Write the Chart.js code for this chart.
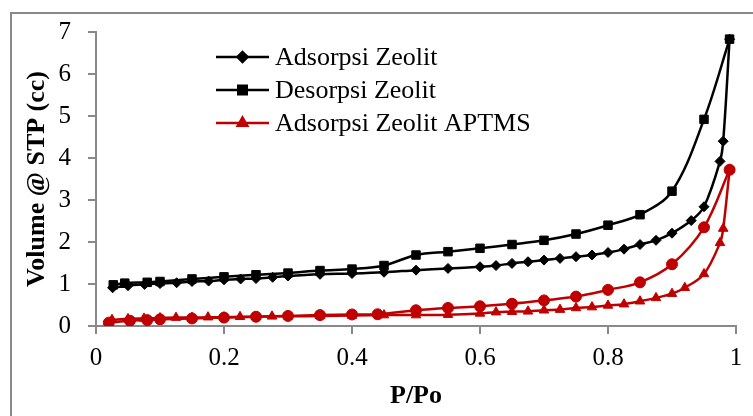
<!DOCTYPE html>
<html>
<head>
<meta charset="utf-8">
<script src="https://cdn.jsdelivr.net/npm/chart.js@4"></script>
<style>
  html, body { margin: 0; padding: 0; background: #fff; }
  #wrap { position: relative; width: 753px; height: 416px; overflow: hidden; }
  #frame { position: absolute; left: 10px; top: 12px; width: 800px; height: 450px; border: 2px solid #898989; }
  #chart { position: absolute; left: 0; top: 0; }
</style>
</head>
<body>
<div id="wrap">
  <div id="frame"></div>
  <canvas id="chart" width="753" height="416"></canvas>
</div>
<script>
// Adsorpsi Zeolit
const adsZeolitX = [0.026, 0.05, 0.076, 0.1, 0.126, 0.15, 0.176, 0.2, 0.226, 0.25, 0.276, 0.3, 0.35, 0.4, 0.45, 0.5, 0.55, 0.6, 0.625, 0.65, 0.675, 0.7, 0.725, 0.75, 0.775, 0.8, 0.825, 0.85, 0.875, 0.9, 0.93, 0.95, 0.975, 0.98, 0.99];
const adsZeolitY = [0.91, 0.96, 0.99, 1.01, 1.03, 1.06, 1.07, 1.10, 1.12, 1.13, 1.16, 1.19, 1.23, 1.25, 1.28, 1.33, 1.37, 1.41, 1.44, 1.49, 1.53, 1.57, 1.61, 1.65, 1.69, 1.75, 1.83, 1.94, 2.04, 2.21, 2.51, 2.84, 3.92, 4.40, 6.83];

// Desorpsi Zeolit
const desZeolitX = [0.99, 0.95, 0.9, 0.85, 0.8, 0.75, 0.7, 0.65, 0.6, 0.55, 0.5, 0.45, 0.4, 0.35, 0.3, 0.25, 0.2, 0.15, 0.1, 0.08, 0.045, 0.027];
const desZeolitY = [6.83, 4.92, 3.21, 2.65, 2.40, 2.19, 2.04, 1.94, 1.85, 1.77, 1.69, 1.44, 1.355, 1.32, 1.26, 1.22, 1.17, 1.12, 1.06, 1.04, 1.02, 0.98];

// Adsorpsi Zeolit APTMS
const adsAptmsX = [0.025, 0.05, 0.075, 0.1, 0.125, 0.15, 0.175, 0.2, 0.225, 0.25, 0.275, 0.3, 0.35, 0.4, 0.45, 0.5, 0.55, 0.6, 0.625, 0.65, 0.675, 0.7, 0.725, 0.75, 0.775, 0.8, 0.825, 0.85, 0.875, 0.9, 0.92, 0.95, 0.975, 0.98, 0.99];
const adsAptmsY = [0.15, 0.17, 0.18, 0.19, 0.20, 0.20, 0.21, 0.21, 0.22, 0.22, 0.23, 0.23, 0.24, 0.25, 0.26, 0.26, 0.27, 0.30, 0.33, 0.34, 0.35, 0.375, 0.39, 0.43, 0.45, 0.49, 0.52, 0.59, 0.67, 0.77, 0.91, 1.24, 1.98, 2.32, 3.72];

// Desorpsi Zeolit APTMS (not in legend)
const desAptmsX = [0.99, 0.95, 0.9, 0.85, 0.8, 0.75, 0.7, 0.65, 0.6, 0.55, 0.5, 0.44, 0.4, 0.35, 0.3, 0.25, 0.2, 0.15, 0.1, 0.08, 0.053, 0.02];
const desAptmsY = [3.72, 2.35, 1.47, 1.04, 0.86, 0.70, 0.61, 0.53, 0.47, 0.43, 0.375, 0.28, 0.275, 0.26, 0.24, 0.22, 0.20, 0.18, 0.16, 0.14, 0.125, 0.08];

const legendLabels = ["Adsorpsi Zeolit", "Desorpsi Zeolit", "Adsorpsi Zeolit APTMS"];

const BLACK = "#000000";
const RED = "#c00000";
const AXIS = "#898989";
const FONT = "'Liberation Serif', 'Times New Roman', serif";

const pts = (xs, ys) => xs.map((x, i) => ({ x: x, y: ys[i] }));

const series = [
  { label: legendLabels[0], data: pts(adsZeolitX, adsZeolitY), color: BLACK, style: "rectRot", radius: 5 },
  { label: legendLabels[1], data: pts(desZeolitX, desZeolitY), color: BLACK, style: "rect", radius: 6 },
  { label: legendLabels[2], data: pts(adsAptmsX, adsAptmsY), color: RED, style: "triangle", radius: 5.5 },
  { label: "Desorpsi Zeolit APTMS", data: pts(desAptmsX, desAptmsY), color: RED, style: "circle", radius: 5.5 },
];

// legend drawn inside the plot area, like the original
const insideLegend = {
  id: "insideLegend",
  afterDraw(chart) {
    const ctx = chart.ctx;
    const rows = [57, 90, 123];
    ctx.save();
    series.slice(0, 3).forEach((s, i) => {
      const y = rows[i];
      ctx.strokeStyle = s.color;
      ctx.lineWidth = 2.5;
      ctx.beginPath();
      ctx.moveTo(216, y);
      ctx.lineTo(269, y);
      ctx.stroke();
      ctx.fillStyle = s.color;
      Chart.helpers.drawPoint(ctx, { pointStyle: s.style, radius: s.radius, borderWidth: 1 }, 242.5, y);
      ctx.fill();
      ctx.fillStyle = "#000";
      ctx.font = "26px " + FONT;
      ctx.textBaseline = "middle";
      ctx.textAlign = "left";
      ctx.fillText(s.label, 275, y + 1);
    });
    ctx.restore();
  },
};

new Chart(document.getElementById("chart"), {
  type: "line",
  data: {
    datasets: series.map((s) => ({
      label: s.label,
      data: s.data,
      borderColor: s.color,
      backgroundColor: s.color,
      borderWidth: 2.5,
      pointStyle: s.style,
      pointRadius: s.radius,
      pointBorderWidth: 1,
      tension: 0.35,
      fill: false,
    })),
  },
  options: {
    responsive: false,
    animation: false,
    layout: { padding: { left: 0, top: 28, right: 17, bottom: 0 } },
    plugins: {
      legend: { display: false },
      tooltip: { enabled: false },
    },
    scales: {
      x: {
        type: "linear",
        min: 0,
        max: 1,
        afterFit: (scale) => { scale.height = 90; },
        border: { color: AXIS, width: 2 },
        grid: { drawOnChartArea: false, drawTicks: true, tickLength: 8, color: AXIS, lineWidth: 2 },
        ticks: {
          stepSize: 0.2,
          padding: 9,
          color: "#000",
          font: { family: FONT, size: 25 },
          callback: (v) => (v === 0 || v === 1 ? String(v) : v.toFixed(1)),
        },
        title: {
          display: true,
          text: "P/Po",
          color: "#000",
          font: { family: FONT, size: 26, weight: "bold" },
          padding: { top: 0, bottom: 4 },
        },
      },
      y: {
        type: "linear",
        min: 0,
        max: 7,
        afterFit: (scale) => { scale.width = 96; },
        border: { color: AXIS, width: 2 },
        grid: { drawOnChartArea: false, drawTicks: true, tickLength: 8, color: AXIS, lineWidth: 2 },
        ticks: {
          stepSize: 1,
          padding: 17,
          color: "#000",
          font: { family: FONT, size: 25 },
        },
        title: {
          display: true,
          text: "Volume @ STP (cc)",
          color: "#000",
          font: { family: FONT, size: 26, weight: "bold" },
          padding: { top: 22, bottom: 0 },
        },
      },
    },
  },
  plugins: [insideLegend],
});
</script>
</body>
</html>
